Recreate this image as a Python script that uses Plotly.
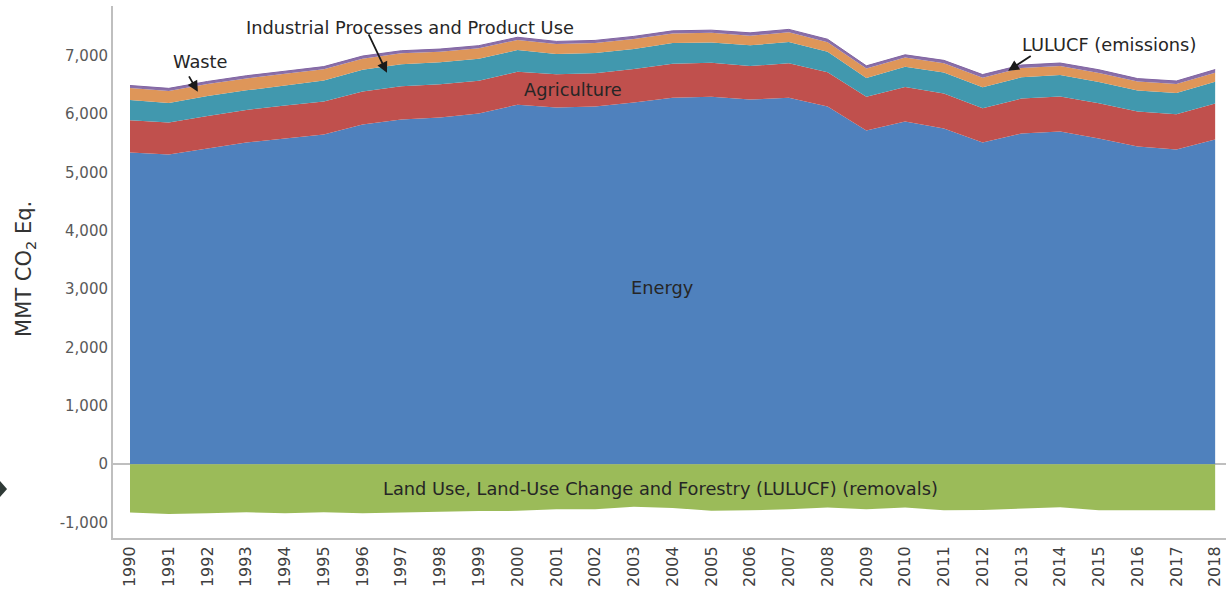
import plotly.graph_objects as go

years = list(range(1990, 2019))

energy = [5342, 5308, 5411, 5514, 5582, 5651, 5822, 5908, 5942, 6010,
          6164, 6113, 6130, 6199, 6284, 6301, 6250, 6284, 6130, 5719,
          5873, 5753, 5514, 5668, 5702, 5582, 5445, 5394, 5565]
agriculture = [555, 550, 560, 560, 565, 565, 565, 570, 570, 565,
               565, 570, 570, 575, 580, 580, 575, 590, 590, 580,
               595, 600, 590, 600, 600, 605, 600, 605, 620]
ippu = [345, 335, 340, 335, 345, 360, 375, 380, 380, 375,
        370, 350, 350, 345, 355, 350, 355, 365, 350, 320,
        345, 360, 360, 365, 370, 365, 360, 365, 370]
waste = [205, 205, 205, 205, 200, 195, 190, 185, 180, 180,
         175, 170, 170, 170, 165, 165, 165, 165, 165, 165,
         160, 160, 160, 160, 155, 155, 155, 155, 155]
lulucf_emissions = [45, 45, 45, 45, 45, 45, 45, 45, 45, 45,
                    45, 45, 45, 45, 45, 45, 50, 50, 50, 45,
                    45, 50, 55, 50, 50, 55, 50, 50, 55]
lulucf_removals = [-830, -855, -840, -825, -840, -825, -840, -825, -815, -805,
                   -800, -775, -775, -730, -750, -800, -790, -775, -745, -775,
                   -745, -790, -785, -760, -740, -790, -790, -780, -790]

y_ticks = [-1000, 0, 1000, 2000, 3000, 4000, 5000, 6000, 7000]
y_tick_labels = ["-1,000", "0", "1,000", "2,000", "3,000", "4,000", "5,000", "6,000", "7,000"]

FONT = "DejaVu Sans"
fig = go.Figure()

series = [
    ("Energy", energy, "#4f81bd"),
    ("Agriculture", agriculture, "#c0504d"),
    ("Industrial Processes and Product Use", ippu, "#4198ae"),
    ("Waste", waste, "#de9659"),
]
for name, vals, col in series:
    fig.add_trace(go.Scatter(x=years, y=vals, name=name, stackgroup="pos",
                             mode="lines", line=dict(width=0, color=col),
                             fillcolor=col))
fig.add_trace(go.Scatter(x=years, y=lulucf_emissions, name="LULUCF (emissions)",
                         stackgroup="pos", mode="lines",
                         line=dict(width=1, color="#8064a2"), fillcolor="#8a6fa8"))
fig.add_trace(go.Scatter(x=years, y=lulucf_removals, name="LULUCF (removals)",
                         stackgroup="neg", mode="lines",
                         line=dict(width=0, color="#9bbb59"), fillcolor="#9bbb59"))

txt = dict(family=FONT, size=17.8, color="#262626")
annotations = [
    dict(x=1997.23, y=7479, text="Industrial Processes and Product Use"),
    dict(x=1991.81, y=6897, text="Waste"),
    dict(x=2001.43, y=6418, text="Agriculture"),
    dict(x=2015.26, y=7188, text="LULUCF (emissions)"),
    dict(x=2003.73, y=3029, text="Energy"),
    dict(x=2003.68, y=-411, text="Land Use, Land-Use Change and Forestry (LULUCF) (removals)"),
]
for a in annotations:
    a.update(xref="x", yref="y", showarrow=False, font=txt)

arrows = [
    ((1996.14, 7393), (1996.63, 6709)),
    ((1991.50, 6675), (1991.75, 6384)),
    ((2013.28, 7017), (2012.66, 6743)),
]
for (tx, ty), (hx, hy) in arrows:
    annotations.append(dict(x=hx, y=hy, ax=tx, ay=ty, xref="x", yref="y",
                            axref="x", ayref="y", text="", showarrow=True,
                            arrowhead=2, arrowsize=1.2, arrowwidth=1.8,
                            arrowcolor="#1a1a1a"))

annotations.append(dict(xref="paper", yref="paper", x=-0.0785, y=0.505,
                        xanchor="center", yanchor="middle",
                        text="MMT CO<sub>2</sub> Eq.", textangle=-90, showarrow=False,
                        font=dict(family=FONT, size=21, color="#333333")))

fig.update_layout(
    width=1226, height=591,
    margin=dict(l=113, r=0, t=6, b=53, autoexpand=False),
    paper_bgcolor="white", plot_bgcolor="white",
    showlegend=False,
    annotations=annotations,
    font=dict(family=FONT),
    shapes=[dict(type="path", xref="paper", yref="paper",
                 path="M -0.1015 0.107 L -0.0952 0.0919 L -0.1015 0.0769 Z",
                 fillcolor="#2f3a36", line=dict(width=0))],
)
fig.update_xaxes(range=[1989.561, 2018.28], tickmode="array", tickvals=years,
                 ticktext=[str(y) for y in years], tickangle=-90,
                 tickfont=dict(family=FONT, size=16, color="#404040"),
                 showgrid=False, zeroline=False, showline=True, automargin=False,
                 linecolor="#bfbfbf", linewidth=2, ticks="")
fig.update_yaxes(range=[-1266, 7855], tickmode="array", tickvals=y_ticks,
                 ticktext=y_tick_labels, automargin=False,
                 tickfont=dict(family=FONT, size=15, color="#595959"),
                 showgrid=False, zeroline=True, zerolinecolor="#bfbfbf",
                 zerolinewidth=1.5, showline=True, linecolor="#bfbfbf",
                 linewidth=2, ticks="")

fig.write_html("out.html", config={"displayModeBar": False},
               post_script="document.body.style.margin='0';document.body.style.overflow='hidden';")
